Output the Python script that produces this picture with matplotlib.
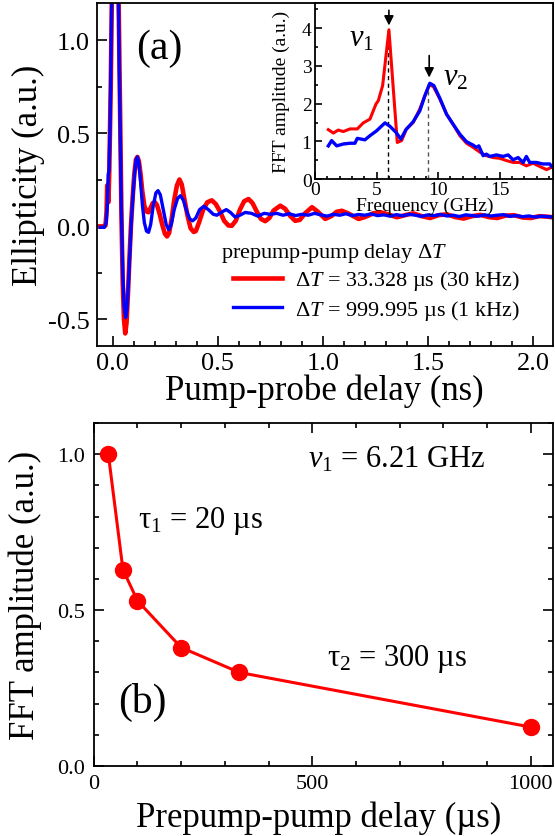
import matplotlib
matplotlib.use("Agg")
import matplotlib.pyplot as plt
from matplotlib.ticker import MultipleLocator, FormatStrFormatter

plt.rcParams['font.family'] = ['Liberation Serif', 'DejaVu Serif']
plt.rcParams['mathtext.fontset'] = 'custom'
plt.rcParams['mathtext.rm'] = 'Liberation Serif'
plt.rcParams['mathtext.it'] = 'Liberation Serif:italic'
plt.rcParams['mathtext.bf'] = 'Liberation Serif:bold'
plt.rcParams['axes.unicode_minus'] = False

# (a) time traces: delay (ns), ellipticity (a.u.)
t_red = [-0.060, -0.045, -0.035, -0.030, -0.027, -0.024, -0.021, -0.017, -0.010, -0.004,
         0.004, 0.012, 0.020, 0.027, 0.034, 0.041, 0.047, 0.053, 0.059, 0.065,
         0.072, 0.079, 0.086, 0.094, 0.102, 0.110, 0.117, 0.124, 0.132, 0.140,
         0.150, 0.160, 0.170, 0.180, 0.190, 0.200, 0.210, 0.222, 0.235, 0.248,
         0.258, 0.268, 0.280, 0.292, 0.305, 0.317, 0.328, 0.340, 0.355, 0.370,
         0.385, 0.395, 0.410, 0.430, 0.450, 0.471, 0.490, 0.510, 0.530, 0.550,
         0.566, 0.585, 0.605, 0.625, 0.646, 0.665, 0.685, 0.705, 0.725, 0.745,
         0.765, 0.797, 0.820, 0.845, 0.868, 0.890, 0.915, 0.948, 0.975, 1.011,
         1.040, 1.065, 1.090, 1.120, 1.170, 1.200, 1.240, 1.273, 1.310, 1.352,
         1.390, 1.430, 1.470, 1.510, 1.550, 1.590, 1.630, 1.670, 1.710, 1.750,
         1.790, 1.830, 1.870, 1.910, 1.950, 1.990, 2.030, 2.070, 2.100]
e_red = [0.0, 0.0, 0.005, 0.08, 0.22, 0.20, 0.13, 0.30, 0.75, 1.30,
         1.85, 2.05, 1.75, 1.25, 0.65, 0.05, -0.30, -0.50, -0.575, -0.52,
         -0.36, -0.17, 0.0, 0.15, 0.28, 0.36, 0.373, 0.35, 0.28, 0.19,
         0.11, 0.08, 0.076, 0.10, 0.125, 0.13, 0.115, 0.07, 0.01, -0.04,
         -0.054, -0.035, 0.04, 0.14, 0.22, 0.252, 0.225, 0.15, 0.06, -0.01,
         -0.03, -0.025, 0.02, 0.09, 0.13, 0.14, 0.12, 0.08, 0.03, 0.005,
         0.003, 0.03, 0.09, 0.135, 0.147, 0.125, 0.08, 0.04, 0.028, 0.045,
         0.085, 0.111, 0.095, 0.055, 0.03, 0.035, 0.07, 0.103, 0.08, 0.04,
         0.055, 0.078, 0.084, 0.07, 0.04, 0.05, 0.07, 0.076, 0.065, 0.049,
         0.06, 0.07, 0.055, 0.045, 0.06, 0.065, 0.05, 0.042, 0.055, 0.062,
         0.05, 0.045, 0.058, 0.06, 0.048, 0.045, 0.055, 0.052, 0.048]

t_blue = [-0.060, -0.040, -0.032, -0.026, -0.022, -0.018, -0.013, -0.006, 0.002, 0.010,
          0.018, 0.025, 0.032, 0.040, 0.047, 0.054, 0.061, 0.067, 0.074, 0.081,
          0.088, 0.096, 0.104, 0.111, 0.117, 0.124, 0.132, 0.141, 0.150, 0.160,
          0.170, 0.180, 0.192, 0.205, 0.215, 0.226, 0.240, 0.254, 0.266, 0.278,
          0.292, 0.308, 0.322, 0.336, 0.352, 0.366, 0.380, 0.395, 0.413, 0.433,
          0.455, 0.478, 0.495, 0.515, 0.540, 0.560, 0.582, 0.605, 0.630, 0.660,
          0.690, 0.720, 0.750, 0.780, 0.810, 0.840, 0.870, 0.900, 0.930, 0.960,
          0.990, 1.020, 1.050, 1.080, 1.110, 1.140, 1.170, 1.200, 1.230, 1.260,
          1.290, 1.320, 1.350, 1.380, 1.410, 1.440, 1.470, 1.500, 1.530, 1.560,
          1.590, 1.620, 1.650, 1.680, 1.710, 1.740, 1.770, 1.800, 1.830, 1.860,
          1.890, 1.920, 1.950, 1.980, 2.010, 2.040, 2.070, 2.100]
e_blue = [-0.005, -0.005, 0.02, 0.12, 0.28, 0.30, 0.55, 1.15, 1.75, 2.05,
          1.85, 1.35, 0.75, 0.12, -0.25, -0.44, -0.49, -0.45, -0.31, -0.14,
          0.03, 0.17, 0.29, 0.36, 0.373, 0.34, 0.24, 0.11, 0.02, -0.025,
          -0.032, 0.01, 0.11, 0.18, 0.192, 0.17, 0.09, 0.01, -0.018, 0.01,
          0.09, 0.15, 0.165, 0.14, 0.08, 0.04, 0.03, 0.045, 0.09, 0.108,
          0.09, 0.065, 0.06, 0.075, 0.09, 0.075, 0.05, 0.06, 0.075, 0.07,
          0.055, 0.07, 0.065, 0.07, 0.06, 0.068, 0.058, 0.065, 0.06, 0.07,
          0.062, 0.055, 0.065, 0.06, 0.068, 0.058, 0.064, 0.06, 0.067, 0.058,
          0.062, 0.055, 0.063, 0.057, 0.065, 0.06, 0.054, 0.062, 0.058, 0.064,
          0.056, 0.06, 0.053, 0.062, 0.058, 0.055, 0.062, 0.056, 0.06, 0.063,
          0.054, 0.058, 0.052, 0.056, 0.05, 0.055, 0.052, 0.05]

# inset FFT spectra: frequency (GHz), amplitude (a.u.)
f_red = [1.08, 1.49, 1.89, 2.30, 2.84, 3.43, 3.92, 4.46, 4.95, 5.14,
         5.49, 6.00, 6.68, 7.03, 7.43, 7.97, 8.51, 8.92, 9.27, 9.60,
         10.14, 10.68, 11.20, 11.76, 12.30, 12.84, 13.40, 13.90, 14.46, 15.00,
         15.54, 16.10, 16.60, 17.16, 17.70, 18.20, 18.80, 19.20]
a_red = [1.31, 1.22, 1.30, 1.26, 1.33, 1.33, 1.49, 1.59, 1.99, 2.08,
         2.48, 3.96, 0.97, 1.02, 1.33, 1.50, 1.86, 2.21, 2.49, 2.46,
         2.12, 1.72, 1.46, 1.15, 0.95, 0.84, 0.71, 0.62, 0.57, 0.55,
         0.49, 0.44, 0.44, 0.35, 0.42, 0.34, 0.25, 0.31]
f_blue = [1.08, 1.35, 1.76, 2.30, 2.84, 3.24, 3.43, 4.05, 4.46, 5.00,
          5.68, 6.08, 6.57, 6.97, 7.38, 7.97, 8.51, 8.92, 9.32, 9.65,
          10.14, 10.68, 11.20, 11.76, 12.30, 12.84, 13.10, 13.30, 13.65, 13.92,
          14.19, 14.73, 15.27, 15.68, 16.08, 16.49, 16.90, 17.16, 17.43, 17.97,
          18.50, 19.05, 19.40]
a_blue = [0.88, 1.02, 0.88, 0.93, 0.95, 0.95, 1.08, 1.04, 1.15, 1.28,
          1.49, 1.40, 1.24, 1.06, 1.31, 1.52, 1.81, 2.21, 2.54, 2.48,
          2.14, 1.72, 1.46, 1.19, 0.99, 0.90, 0.84, 0.88, 0.62, 0.66,
          0.60, 0.64, 0.60, 0.64, 0.51, 0.57, 0.44, 0.60, 0.44, 0.44,
          0.40, 0.40, 0.27]
f_peak1, a_peak1 = 5.95, 3.96
f_peak2, a_peak2 = 9.2, 2.52

# (b) FFT amplitude of v1 vs prepump-pump delay
delay_us = [33.3, 66.7, 100, 200, 333.3, 1000]
amp_v1 = [1.0, 0.63, 0.53, 0.38, 0.30, 0.125]

label_red = r"$\Delta T$ = 33.328 µs (30 kHz)"
label_blue = r"$\Delta T$ = 999.995 µs (1 kHz)"

RED = '#ff0000'
BLUE = '#0000ff'

fig = plt.figure(figsize=(5.55, 8.37), dpi=100)

def style(ax, size, major, minor, pad, mirror=False):
    for s in ax.spines.values():
        s.set_linewidth(1.3)
    ax.tick_params(which='both', direction='in', top=mirror, right=mirror,
                   labelsize=size, pad=pad, width=1.2)
    ax.tick_params(which='major', length=major)
    ax.tick_params(which='minor', length=minor)

# ---- panel (a)
ax1 = fig.add_axes([0.1742, 0.586, 0.8228, 0.4092])
ax1.plot(t_red, e_red, color=RED, lw=3.3, label=label_red)
ax1.plot(t_blue, e_blue, color=BLUE, lw=2.4, label=label_blue)
ax1.set_xlim(-0.077, 2.097)
ax1.set_ylim(-0.64, 1.2)
ax1.xaxis.set_major_locator(MultipleLocator(0.5))
ax1.xaxis.set_minor_locator(MultipleLocator(0.1))
ax1.yaxis.set_major_locator(MultipleLocator(0.5))
ax1.yaxis.set_minor_locator(MultipleLocator(0.25))
ax1.xaxis.set_major_formatter(FormatStrFormatter('%.1f'))
ax1.yaxis.set_major_formatter(FormatStrFormatter('%.1f'))
style(ax1, 19, 7, 3.5, 5)
ax1.set_xlabel('Pump-probe delay (ns)', fontsize=25, va='top')
ax1.set_ylabel('Ellipticity (a.u.)', fontsize=25)
ax1.xaxis.set_label_coords(0.499, -0.083)
ax1.yaxis.set_label_coords(-0.113, 0.5)
ax1.text(0.22, 0.958, '(a)', fontsize=30, ha='center', va='center')
ax1.text(0.272, 0.273, r'prepump-pump delay $\Delta T$', fontsize=16,
         transform=ax1.transAxes, va='center')
ax1.legend(loc='upper left', bbox_to_anchor=(0.299, 0.225), frameon=False,
           fontsize=16, handlelength=2.2, handletextpad=0.56, labelspacing=0.25,
           borderpad=0, borderaxespad=0)

# ---- inset
ax2 = fig.add_axes([0.5676, 0.7849, 0.4294, 0.2103])
ax2.plot([f_peak1, f_peak1], [0, a_peak1], color='black', lw=1.0, ls=(0, (3, 2.5)))
ax2.plot([f_peak2, f_peak2], [0, a_peak2], color='#555555', lw=1.0, ls=(0, (3, 2.5)))
ax2.plot(f_red, a_red, color=RED, lw=2.2)
ax2.plot(f_blue, a_blue, color=BLUE, lw=2.4)
ax2.annotate('', xy=(6.0, 4.0), xytext=(6.0, 4.55),
             arrowprops=dict(arrowstyle='-|>', color='black', lw=1.2,
                             mutation_scale=14))
ax2.annotate('', xy=(9.27, 2.62), xytext=(9.27, 3.35),
             arrowprops=dict(arrowstyle='-|>', color='black', lw=1.2,
                             mutation_scale=14))
ax2.text(2.78, 3.54, r'$v_{1}$', fontsize=22, va='baseline')
ax2.text(10.4, 2.52, r'$v_{2}$', fontsize=22, va='baseline')
ax2.set_xlim(0, 19.35)
ax2.set_ylim(0, 4.67)
ax2.xaxis.set_major_locator(MultipleLocator(5))
ax2.xaxis.set_minor_locator(MultipleLocator(1))
ax2.yaxis.set_major_locator(MultipleLocator(1))
ax2.yaxis.set_minor_locator(MultipleLocator(0.5))
style(ax2, 14, 5, 2.5, 2.5)
ax2.tick_params(axis='x', pad=1.2)
ax2.set_xlabel('Frequency (GHz)', fontsize=14, va='top')
ax2.set_ylabel('FFT amplitude (a.u.)', fontsize=14)
ax2.xaxis.set_label_coords(0.46, -0.1)
ax2.yaxis.set_label_coords(-0.105, 0.5)

# ---- panel (b)
ax3 = fig.add_axes([0.1690, 0.0836, 0.8274, 0.4098])
ax3.plot(delay_us, amp_v1, color=RED, lw=2.2, marker='o', markersize=11.5)
ax3.set_xlim(0, 1051)
ax3.set_ylim(0, 1.1)
ax3.xaxis.set_major_locator(MultipleLocator(500))
ax3.xaxis.set_minor_locator(MultipleLocator(100))
ax3.yaxis.set_major_locator(MultipleLocator(0.5))
ax3.yaxis.set_minor_locator(MultipleLocator(0.1))
ax3.yaxis.set_major_formatter(FormatStrFormatter('%.1f'))
style(ax3, 16, 7, 3.5, 6, mirror=True)
ax3.set_xlabel('Prepump-pump delay (µs)', fontsize=25, va='top')
ax3.set_ylabel('FFT amplitude (a.u.)', fontsize=25)
ax3.xaxis.set_label_coords(0.49, -0.1)
ax3.yaxis.set_label_coords(-0.113, 0.5)
ax3.text(490, 0.962, r'$v_{1}$ = 6.21 GHz', fontsize=22, va='baseline')
ax3.text(101, 0.768, r'τ$_{1}$ = 20 µs', fontsize=22, va='baseline')
ax3.text(534, 0.324, r'τ$_{2}$ = 300 µs', fontsize=22, va='baseline')
ax3.text(112, 0.208, '(b)', fontsize=30, ha='center', va='center')

fig.savefig('out.png', dpi=100)
